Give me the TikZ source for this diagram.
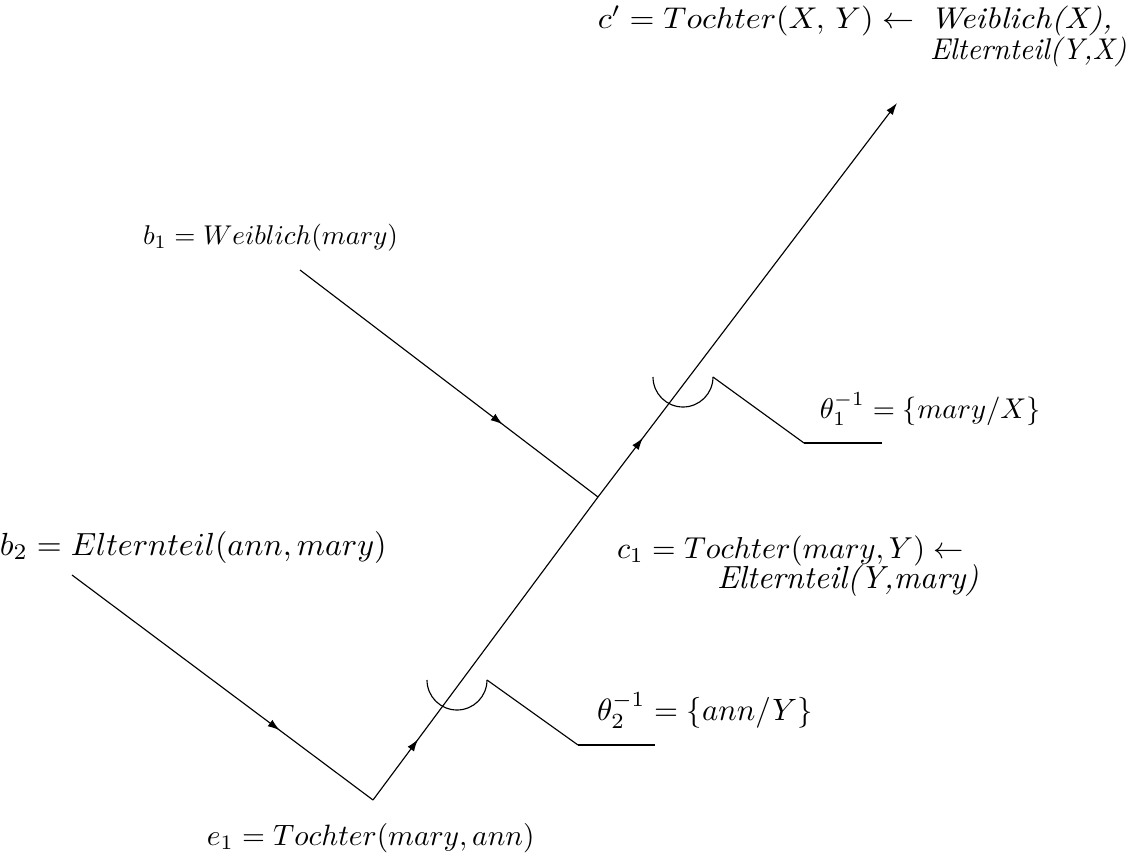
\documentclass[tikz,border=0pt]{standalone}
\usetikzlibrary{arrows.meta,decorations.markings}
\tikzset{
  px/.style={x=0.35pt,y=-0.35pt},
  conn/.style={line width=0.4pt},
  tip/.style={-{Latex[length=4.2pt,width=2.8pt]}},
  midarrow/.style={postaction={decorate},
    decoration={markings, mark=at position #1 with {\arrow{Latex[length=4.2pt,width=2.8pt]}}}},
  lbl/.style={anchor=base west, inner sep=0pt, outer sep=0pt},
  subst/.style={line width=0.4pt},
  shelf/.style={line width=0.9pt}
}
\begin{document}
\begin{tikzpicture}[px]
\useasboundingbox (0,0) rectangle (1133,862);
% junction points
\coordinate (b1s) at (300,270);
\coordinate (b2s) at (72,575);
\coordinate (c1j) at (598,497);
\coordinate (e1j) at (373,800);
\coordinate (cpj) at (897,103);
% labels
\node[lbl] (cp) at (598,28) {\scalebox{1.12}[1.05]{$c' = Tochter(X,\, Y) \leftarrow$}};
\node[lbl] (cpw) at (930,28) {\scalebox{1.15}[1.05]{\textit{Weiblich(X),}}};
\node[lbl] (cpb) at (930,59) {\scalebox{1.03}[1.05]{\textit{Elternteil(Y,X)}}};
\node[lbl] (b1) at (143,244) {\scalebox{0.95}{$b_1 = Weiblich(mary)$}};
\node[lbl] (b2) at (0,555) {\scalebox{1.12}{$b_2 = Elternteil(ann, mary)$}};
\node[lbl] (c1) at (617,558) {\scalebox{1.06}{$c_1 = Tochter(mary, Y) \leftarrow$}};
\node[lbl] (c1b) at (717,588) {\scalebox{1.12}{\textit{Elternteil(Y,mary)}}};
\node[lbl] (e1) at (207,845) {\scalebox{1.03}{$e_1 = Tochter(mary, ann)$}};
\node[lbl] (t1) at (820,418) {$\theta_1^{-1} = \{mary/X\}$};
\node[lbl] (t2) at (597,720) {\scalebox{1.08}{$\theta_2^{-1} = \{ann/Y\}$}};
% connectors
\draw[conn,midarrow=0.68] (b1s) -- (c1j);
\draw[conn,midarrow=0.69] (b2s) -- (e1j);
\draw[conn,midarrow=0.2] (e1j) -- (c1j);
\draw[conn,midarrow=0.15,tip] (c1j) -- (cpj);
% substitution marks
\coordinate (a1) at (713,377);
\coordinate (k1) at (804,443);
\coordinate (h1) at (882,443);
\draw[subst] (a1) arc[start angle=0, end angle=180, radius=30];
\draw[subst] (a1) -- (k1);
\draw[shelf] (k1) -- (h1);
\coordinate (a2) at (487,680);
\coordinate (k2) at (578,745);
\coordinate (h2) at (655,745);
\draw[subst] (a2) arc[start angle=0, end angle=180, radius=30];
\draw[subst] (a2) -- (k2);
\draw[shelf] (k2) -- (h2);
\end{tikzpicture}
\end{document}
